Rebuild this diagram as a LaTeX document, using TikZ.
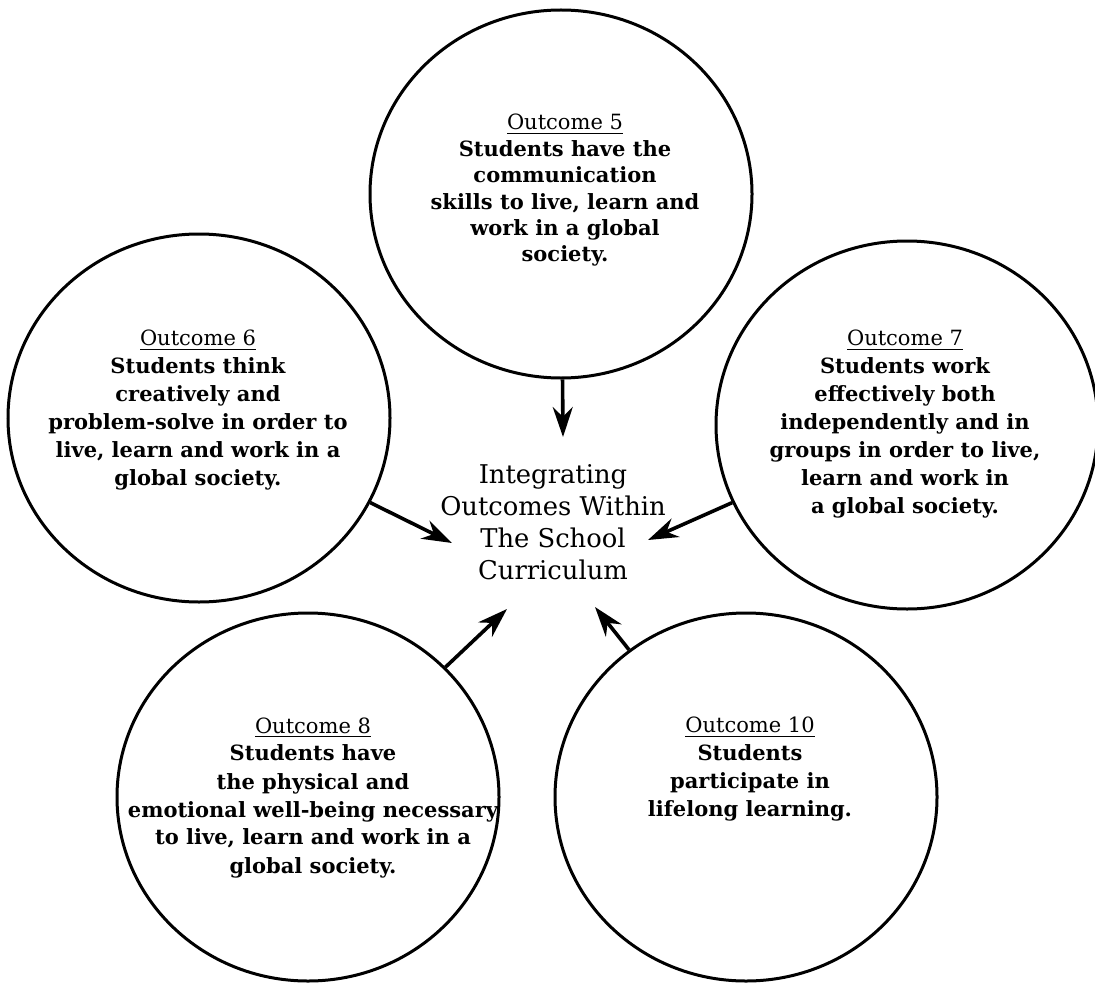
\documentclass[tikz,border=0pt]{standalone}
\usepackage{fontspec}
\setmainfont{DejaVu Serif}
\usetikzlibrary{shapes.geometric,arrows.meta}

\tikzstyle{outcome} = [draw, ellipse, line width=1.5pt, minimum width=191pt, minimum height=184pt, inner sep=0pt]
\tikzstyle{words} = [align=center, anchor=north, inner sep=0pt, font=\fontsize{10.5}{14}\selectfont\bfseries]
\tikzstyle{hub} = [align=center, anchor=north, inner sep=0pt, font=\fontsize{12.9}{16}\selectfont]
\tikzstyle{flow} = [line width=1.8pt, -{Stealth[length=15pt,width=10pt]}]
\newcommand{\outhead}[1]{\underline{\mdseries #1}}

\begin{document}
\begin{tikzpicture}[x=0.5pt, y=-0.5pt]
\useasboundingbox (0,0) rectangle (1095,984);

\node[outcome] (o5) at (561,194) {};
\node[outcome] (o6) at (199,418) {};
\node[outcome] (o7) at (907,425) {};
\node[outcome] (o8) at (308,797) {};
\node[outcome] (o10) at (746,797) {};

\node[words, font=\fontsize{10.5}{13.2}\selectfont\bfseries] (t5) at (565,114) {\outhead{Outcome 5}\\
	Students have the\\
	communication\\
	skills to live, learn and\\
	work in a global\\
	society.};
\node[words] (t6) at (198,330) {\outhead{Outcome 6}\\
	Students think\\
	creatively and\\
	problem-solve in order to\\
	live, learn and work in a\\
	global society.};
\node[words] (t7) at (905,330) {\outhead{Outcome 7}\\
	Students work\\
	effectively both\\
	independently and in\\
	groups in order to live,\\
	learn and work in\\
	a global society.};
\node[words] (t8) at (313,717) {\outhead{Outcome 8}\\
	Students have\\
	the physical and\\
	emotional well-being necessary\\
	to live, learn and work in a\\
	global society.};
\node[words] (t10) at (750,717) {\outhead{Outcome 10}\\
	Students\\
	participate in\\
	lifelong learning.};

\node[hub] (hub) at (553,464) {Integrating\\
	Outcomes Within\\
	The School\\
	Curriculum};

\coordinate (in5) at (563,437);
\coordinate (in6) at (452,543);
\coordinate (in7) at (648,540);
\coordinate (in8) at (507,609);
\coordinate (in10) at (595,607);

\draw[flow] (o5) -- (in5);
\draw[flow] (o6) -- (in6);
\draw[flow] (o7) -- (in7);
\draw[flow] (o8) -- (in8);
\draw[flow] (o10) -- (in10);
\end{tikzpicture}
\end{document}
